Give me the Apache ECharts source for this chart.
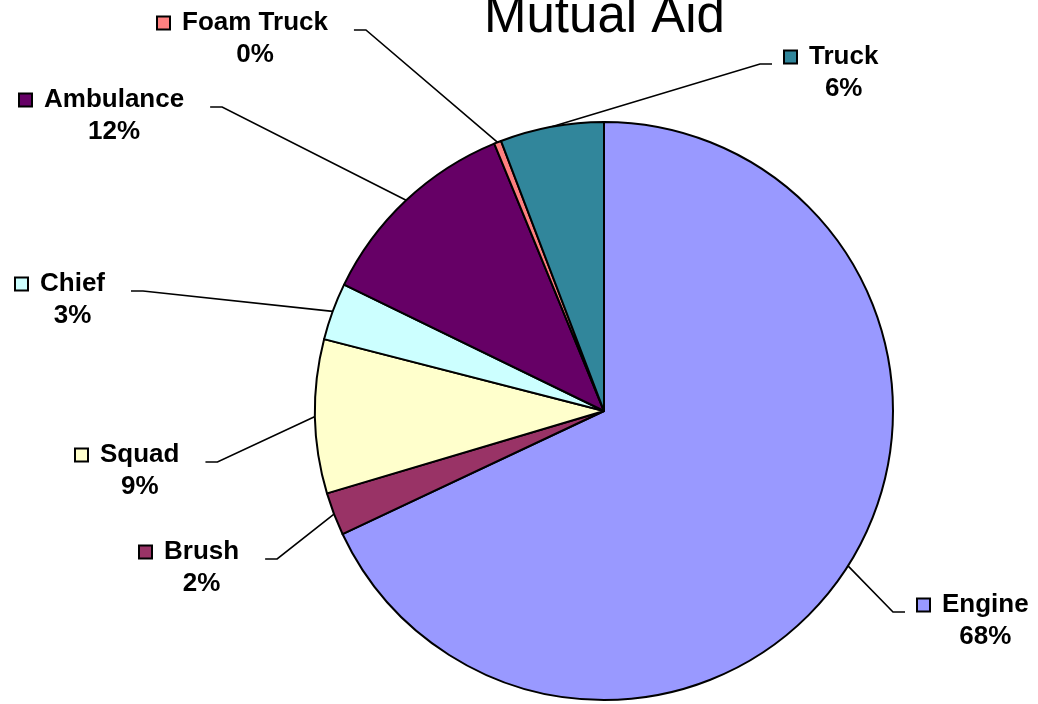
<!DOCTYPE html>
<html><head><meta charset="utf-8">
<script src="https://cdn.jsdelivr.net/npm/echarts@6/dist/echarts.min.js"></script>
<style>html,body{margin:0;padding:0;background:#fff}#main{width:1038px;height:704px}</style>
</head><body><div id="main"></div>
<script>
const titleText = 'Mutual Aid';
const categories = ['Engine', 'Brush', 'Squad', 'Chief', 'Ambulance', 'Foam Truck', 'Truck'];
const values = [68.0, 2.4, 8.6, 3.2, 11.6, 0.4, 5.8];
const colors = ['#9999FF', '#993366', '#FFFFCC', '#CCFFFF', '#660066', '#FF8080', '#31869B'];

// label box top-left positions (layout only)
const labelPos = [[918, 589], [140, 536], [76, 439], [16, 268], [20, 84], [158, 7], [785, 41]];
const PIE_CX = 604, PIE_CY = 411, PIE_R = 289;

const FONT = '"Liberation Sans", Arial, Helvetica, sans-serif';
const chart = echarts.init(document.getElementById('main'), null, {renderer: 'canvas'});

const txt = {fontFamily: FONT, fontSize: 26, fontWeight: 'bold', color: '#000', lineHeight: 32, align: 'center'};
const rich = {
  name: Object.assign({}, txt, {padding: [0, 0, 0, 13]}),
  pct: Object.assign({}, txt, {padding: [0, 0, 0, 24]})
};
colors.forEach((c, i) => {
  rich['sq' + i] = {width: 11, height: 11, backgroundColor: c, borderColor: '#000', borderWidth: 2, align: 'center', lineHeight: 32};
});

chart.setOption({
  animation: false,
  backgroundColor: '#fff',
  title: {
    text: titleText,
    left: 479,
    top: -13,
    textStyle: {fontFamily: FONT, fontSize: 51, fontWeight: 'normal', color: '#000'}
  },
  series: [{
    type: 'pie',
    center: [PIE_CX, PIE_CY],
    radius: PIE_R,
    startAngle: 90,
    clockwise: true,
    avoidLabelOverlap: false,
    silent: true,
    emphasis: {disabled: true},
    itemStyle: {borderColor: '#000', borderWidth: 2},
    label: {
      show: true,
      position: 'outside',
      formatter: p => `{sq${p.dataIndex}|}{name|${p.name}}\n{pct|${Math.round(p.percent)}%}`,
      rich: rich
    },
    labelLine: {show: true, length: 10, length2: 10, lineStyle: {color: '#000', width: 1.6}},
    labelLayout: function (p) {
      const i = p.dataIndex;
      const pos = labelPos[i];
      const w = p.labelRect.width;
      const lineY = pos[1] + 23;
      let start = p.labelLinePoints && p.labelLinePoints[0];
      let mid, end;
      if (pos[0] + w / 2 > PIE_CX) {
        end = [pos[0] - 13, lineY];
        mid = [end[0] - 12, lineY];
      } else {
        end = [pos[0] + w + 24, lineY];
        mid = [end[0] + 12, lineY];
      }
      return {
        x: pos[0], y: pos[1], align: 'left', verticalAlign: 'top',
        labelLinePoints: [start, mid, end]
      };
    },
    data: categories.map((n, i) => ({name: n, value: values[i], itemStyle: {color: colors[i]}}))
  }]
});
</script>
</body></html>
